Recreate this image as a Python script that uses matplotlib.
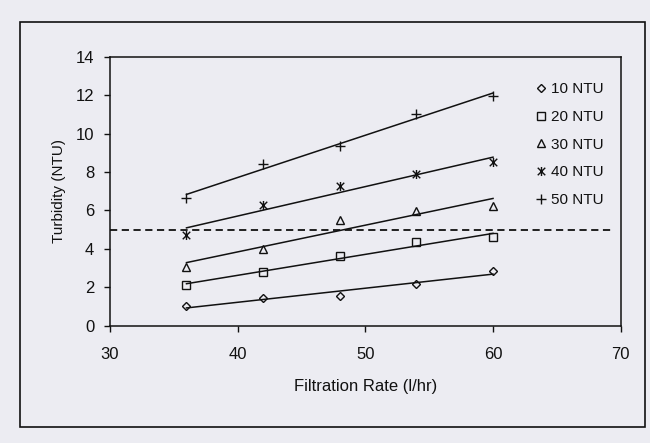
import matplotlib
matplotlib.use('Agg')
import numpy as np
import matplotlib.pyplot as plt
from matplotlib.path import Path
from matplotlib.patches import Rectangle

plt.rcParams['font.family'] = ['Liberation Sans', 'DejaVu Sans']

# 読み取った値 (ろ過速度 l/hr, 濁度 NTU)
filtration_rate = [36, 42, 48, 54, 60]
ntu10 = [1.0, 1.45, 1.55, 2.15, 2.85]
ntu20 = [2.1, 2.8, 3.6, 4.35, 4.6]
ntu30 = [3.05, 4.0, 5.5, 5.95, 6.25]
ntu40 = [4.7, 6.3, 7.25, 7.9, 8.5]
ntu50 = [6.65, 8.4, 9.35, 11.0, 11.95]
series_labels = ['10 NTU', '20 NTU', '30 NTU', '40 NTU', '50 NTU']

# 破線 (基準値)
limit_x = [30, 69.5]
limit_y = 5.0

x_ticks = [30, 40, 50, 60, 70]
y_ticks = [0, 2, 4, 6, 8, 10, 12, 14]

bg = '#ececf2'

# x + 縦線のマーカー (Excel の * 風)
star = Path([(-1, -1), (1, 1), (-1, 1), (1, -1), (0, -1.2), (0, 1.2)],
            [Path.MOVETO, Path.LINETO, Path.MOVETO, Path.LINETO, Path.MOVETO, Path.LINETO])

markers = ['D', 's', '^', star, '+']
sizes = [4.5, 5.5, 6, 6.5, 7.5]

fig = plt.figure(figsize=(6.5, 4.43), dpi=100, facecolor=bg)
fig.patches.append(Rectangle((0.031, 0.036), 0.961, 0.914, transform=fig.transFigure,
                             fill=False, lw=1.2, ec='#111111'))

ax = fig.add_axes([0.169, 0.265, 0.786, 0.607])
ax.set_facecolor(bg)

x = np.array(filtration_rate)
for vals, lab, m, s in zip([ntu10, ntu20, ntu30, ntu40, ntu50], series_labels, markers, sizes):
    y = np.array(vals)
    k, b = np.polyfit(x, y, 1)
    ax.plot(x[[0, -1]], k * x[[0, -1]] + b, color='#111111', lw=1.1, zorder=2)
    ax.plot(x, y, linestyle='none', marker=m, ms=s, mfc='none', mec='#111111',
            mew=1.0, label=lab, zorder=3)

ax.plot(limit_x, [limit_y, limit_y], color='#111111', lw=1.3, dashes=(4, 2.5), zorder=2)

ax.set_xlim(30, 70)
ax.set_ylim(0, 14)
ax.set_xticks(x_ticks)
ax.set_yticks(y_ticks)
ax.tick_params(axis='x', direction='out', length=4.3, width=1, pad=11, labelsize=12, colors='#111111')
ax.tick_params(axis='y', direction='out', length=4.3, width=1, pad=7, labelsize=12, colors='#111111')
for sp in ax.spines.values():
    sp.set_linewidth(1.1)
    sp.set_color('#111111')

ax.set_xlabel('Filtration Rate (l/hr)', fontsize=12, labelpad=12, color='#111111')
ax.set_ylabel('Turbidity (NTU)', fontsize=11, labelpad=7, color='#111111')

ax.legend(loc='upper right', bbox_to_anchor=(0.967, 0.905), frameon=False, fontsize=11,
          borderaxespad=0, borderpad=0, labelspacing=0.9, handlelength=0.8,
          handletextpad=0.3, labelcolor='#111111')

fig.savefig('out.png', dpi=100, facecolor=bg)
